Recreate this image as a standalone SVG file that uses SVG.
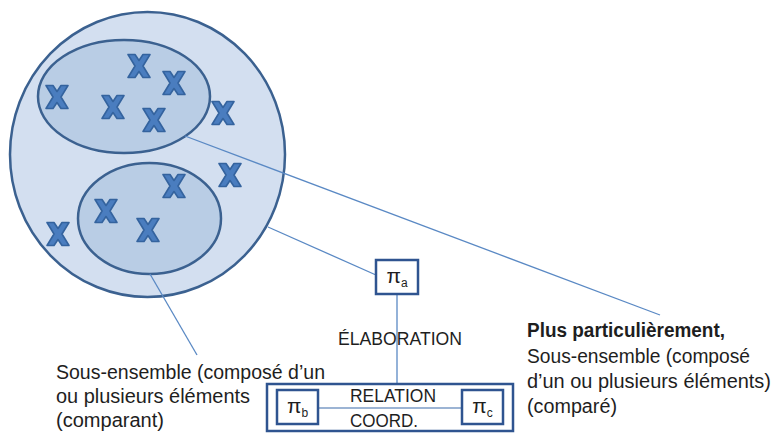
<svg xmlns="http://www.w3.org/2000/svg" xmlns:xlink="http://www.w3.org/1999/xlink" width="772" height="434" viewBox="0 0 772 434">
<style>
.set{fill:#d3dff0;stroke:#3b6190;stroke-width:2.5}
.sub{fill:#b9cde5;stroke:#3b6190;stroke-width:2.5}
.conn{stroke:#5a89c4;stroke-width:1.3;fill:none}
.coord{stroke:#9cb4d4;stroke-width:2;fill:none}
.box{fill:#ffffff;stroke:#2f5490;stroke-width:2.5}
.frame{fill:#ffffff;stroke:#2f5490;stroke-width:2.5}
text{font-family:"Liberation Sans",Arial,sans-serif;fill:#1e1e1e}
.t{font-size:20px}
.caps{font-size:19px}
.pi{font-size:21px}
.s{font-size:12px}
</style>
<defs>
<path id="x" d="M-11,-11.5 L-4,-11.5 L0,-5.5 L4,-11.5 L11,-11.5 L4,0 L11,11.5 L4,11.5 L0,5.5 L-4,11.5 L-11,11.5 L-4,0 Z" fill="#4a7dbf" stroke="#34639e" stroke-width="1.6" stroke-linejoin="round"/>
</defs>
<g id="ensemble">
<ellipse class="set" cx="147.5" cy="154.5" rx="137.5" ry="142.5"/>
</g>
<g id="sous-ensemble-compare">
<ellipse class="sub" cx="124" cy="96.5" rx="86" ry="56.5"/>
</g>
<g id="sous-ensemble-comparant">
<ellipse class="sub" cx="149.5" cy="218.5" rx="71.5" ry="55.5"/>
</g>
<g id="elements">
<use xlink:href="#x" x="57" y="97"/>
<use xlink:href="#x" x="139" y="66"/>
<use xlink:href="#x" x="174" y="83"/>
<use xlink:href="#x" x="113" y="107"/>
<use xlink:href="#x" x="154" y="120"/>
<use xlink:href="#x" x="223" y="113"/>
<use xlink:href="#x" x="230" y="175"/>
<use xlink:href="#x" x="174" y="186"/>
<use xlink:href="#x" x="106" y="211"/>
<use xlink:href="#x" x="148" y="230"/>
<use xlink:href="#x" x="58" y="234"/>
</g>
<g id="connectors">
<line class="conn" x1="185" y1="136" x2="660" y2="315"/>
<line class="conn" x1="268" y1="227" x2="376" y2="275"/>
<line class="conn" x1="150" y1="274" x2="197" y2="355"/>
<line class="conn" x1="397" y1="294" x2="397" y2="384"/>
</g>
<g id="pi-a">
<rect class="box" x="376" y="260" width="42" height="34"/>
<text x="397" y="283" text-anchor="middle"><tspan class="pi">π</tspan><tspan class="s" dy="4">a</tspan></text>
</g>
<g id="label-elaboration">
<text class="caps" x="400" y="345" text-anchor="middle" textLength="124" lengthAdjust="spacingAndGlyphs">ÉLABORATION</text>
</g>
<g id="coordination">
<rect class="frame" x="267" y="384" width="246" height="47"/>
<line class="coord" x1="318" y1="408" x2="462" y2="408"/>
<text class="caps" x="393" y="402" text-anchor="middle" textLength="86" lengthAdjust="spacingAndGlyphs">RELATION</text>
<text class="caps" x="384" y="427" text-anchor="middle" textLength="68" lengthAdjust="spacingAndGlyphs">COORD.</text>
</g>
<g id="pi-b">
<rect class="box" x="277" y="390" width="41" height="34"/>
<text x="297.5" y="413" text-anchor="middle"><tspan class="pi">π</tspan><tspan class="s" dy="4">b</tspan></text>
</g>
<g id="pi-c">
<rect class="box" x="462" y="390" width="41" height="34"/>
<text x="482.5" y="413" text-anchor="middle"><tspan class="pi">π</tspan><tspan class="s" dy="4">c</tspan></text>
</g>
<g id="label-compare">
<text class="t" x="527" y="337" font-weight="bold" textLength="198" lengthAdjust="spacingAndGlyphs">Plus particulièrement,</text>
<text class="t" x="527" y="363" textLength="223" lengthAdjust="spacingAndGlyphs">Sous-ensemble (composé</text>
<text class="t" x="527" y="388" textLength="244" lengthAdjust="spacingAndGlyphs">d’un ou plusieurs éléments)</text>
<text class="t" x="527" y="413" textLength="90" lengthAdjust="spacingAndGlyphs">(comparé)</text>
</g>
<g id="label-comparant">
<text class="t" x="56" y="379" textLength="269" lengthAdjust="spacingAndGlyphs">Sous-ensemble (composé d’un</text>
<text class="t" x="56" y="403" textLength="194" lengthAdjust="spacingAndGlyphs">ou plusieurs éléments</text>
<text class="t" x="56" y="427" textLength="108" lengthAdjust="spacingAndGlyphs">(comparant)</text>
</g>
</svg>
